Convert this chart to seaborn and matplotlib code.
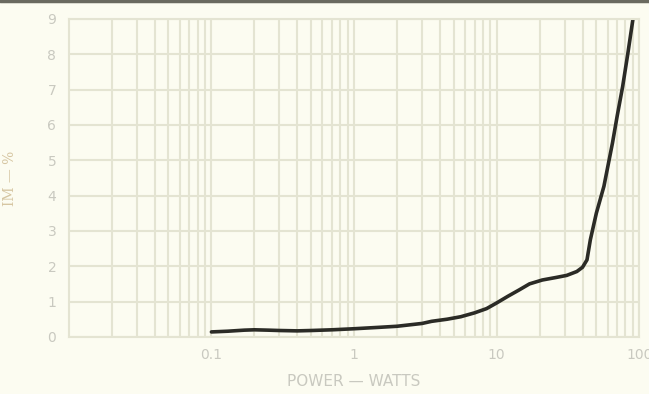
import numpy as np
import pandas as pd
import matplotlib
matplotlib.use('Agg')
import matplotlib.pyplot as plt
from matplotlib.ticker import FixedLocator, FixedFormatter, LogLocator, NullFormatter
import seaborn as sns

# curve
power_w = [0.1, 0.13, 0.17, 0.2, 0.25, 0.3, 0.4, 0.5, 0.7, 1.0, 1.5, 2.0, 3.0, 3.5, 4.5,
           5.6, 7.0, 8.5, 10.0, 12.0, 14.4, 17.0, 20.9, 26.0, 31.0, 36.5, 40.0, 43.0,
           45.4, 50.0, 56.5, 64.9, 70.0, 76.5, 83.0, 90.2]
im_pct = [0.14, 0.16, 0.19, 0.2, 0.19, 0.18, 0.17, 0.18, 0.2, 0.23, 0.27, 0.3, 0.38, 0.44,
          0.5, 0.57, 0.68, 0.8, 0.96, 1.15, 1.33, 1.5, 1.61, 1.68, 1.74, 1.85, 1.97, 2.18,
          2.75, 3.5, 4.26, 5.49, 6.25, 7.09, 8.0, 8.98]

x_ticks = [0.1, 1, 10, 100]
x_labels = ['0.1', '1', '10', '100']
y_ticks = list(range(0, 10))

df = pd.DataFrame({'power': power_w, 'im': im_pct})

bg = '#fcfcf1'
grid_c = '#e4e4d2'
text_c = '#c9c9c0'

sns.set_style('white')
plt.rcParams['font.family'] = ['DejaVu Sans']

fig = plt.figure(figsize=(6.49, 3.94), dpi=100, facecolor=bg)
ax = fig.add_axes([0.106, 0.145, 0.879, 0.807])
ax.set_facecolor(bg)

sns.lineplot(data=df, x='power', y='im', ax=ax, color='#2b2b26', linewidth=2.6)

ax.set_xscale('log')
ax.set_xlim(0.01, 100)
ax.set_ylim(0, 9)

ax.xaxis.set_major_locator(FixedLocator(x_ticks))
ax.xaxis.set_major_formatter(FixedFormatter(x_labels))
ax.xaxis.set_minor_locator(LogLocator(base=10, subs=np.arange(2, 10)))
ax.xaxis.set_minor_formatter(NullFormatter())
ax.set_yticks(y_ticks)

ax.grid(True, which='both', axis='x', color=grid_c, linewidth=1.5)
ax.grid(True, which='major', axis='y', color=grid_c, linewidth=1.5)
ax.set_axisbelow(True)

for s in ax.spines.values():
    s.set_color(grid_c)
    s.set_linewidth(1.5)

ax.tick_params(axis='both', which='both', length=0, colors=text_c, labelsize=10)
ax.tick_params(axis='y', pad=9)
ax.tick_params(axis='x', pad=8)

ax.set_xlabel('POWER — WATTS', color=text_c, fontsize=11, labelpad=9)
ax.set_ylabel('IM — %', color='#d6c6a2', fontsize=10, labelpad=22, family='DejaVu Serif')

# dark scan edge along the top
fig.add_artist(plt.Line2D([0, 1], [0.997, 0.997], transform=fig.transFigure,
                          color='#6a6a60', linewidth=2.5))

fig.savefig('out.png', dpi=100, facecolor=bg)
